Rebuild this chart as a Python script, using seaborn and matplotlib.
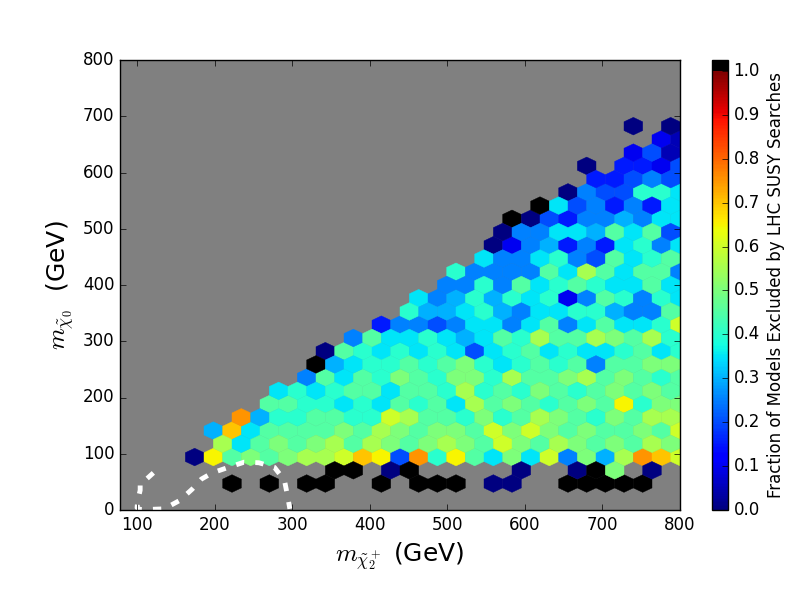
import numpy as np
import matplotlib
matplotlib.use("Agg")
import matplotlib.pyplot as plt
from matplotlib.colors import ListedColormap
import seaborn as sns

# hex lattice of the binning (gridsize 30 -> 17 rows)
x_extent = (78, 800)
y_extent = (0, 800)
grid_nx = 30
grid_ny = 17

# fraction of models excluded per hex, one string per half-row of the lattice,
# bottom row first. '.' = empty, 'a'..'u' = 0.00..1.00 in steps of 0.05
level_codes = "abcdefghijklmnopqrstu"
first_row = 2
hex_rows = [
    "......u.u.uu..u.uuu.aa..uuuuu..",
    "...........uu.au.....a..auk.a.",
    "....anjkjkllmonepinjhkhmfkglpom",
    ".....lhjkjkljlkjklkjmkjlkjkjlk",
    ".....gohjjjjkjlkjkkjmkmkjkjjkjm",
    "......pgiijjiimljjikijlkjikjll",
    "........jjiihihjijhljkjijkjnikk",
    "........hihijjhjjilijikjijkjkj",
    "..........fjhjikjikkiljjkljkjij",
    "..........ughiijijkihijijfjjkk",
    "...........ajihihihehijhihhijhi",
    "............fjhhihghjiljjlkjli",
    "..............dffefhhfhjfhjhhim",
    "...............igghigfhhiigffj",
    "................hfgigihicfjifih",
    ".................ffifjhijihhjh",
    "..................iffffjhljhjjf",
    "...................hffhifejhij",
    "....................acfgdfdhifh",
    "....................affhhgjhje",
    ".....................uaedffgfhh",
    "......................uhefdfdh",
    "........................afeeiih",
    ".........................ddefe",
    ".........................a.ddce",
    "...........................ceb",
    ".............................cb",
    "...........................a.a",
]

# white dashed contour in the lower left
contour_x = [121, 113, 104, 104, 101, 100, 104, 115, 135, 155, 171, 183, 197, 216, 238, 257, 277, 290, 294, 297]
contour_y = [66, 56, 49, 35, 18, 4, 1, 1, 2, 17, 37, 55, 66, 75, 85, 84, 76, 53, 25, 2]

# cell centres on the hexbin lattice
sx = (x_extent[1] - x_extent[0]) / grid_nx
sy = (y_extent[1] - y_extent[0]) / grid_ny
xs, ys, fracs = [], [], []
for n, row in enumerate(hex_rows):
    r = first_row + n
    for k, ch in enumerate(row):
        if ch == ".":
            continue
        xs.append(x_extent[0] + (k + 0.5 * (r % 2)) * sx)
        ys.append(y_extent[0] + r * sy / 2)
        fracs.append(level_codes.index(ch) * 0.05)

# jet with a black band on top for fully excluded cells
jet = matplotlib.colormaps["jet"]
colors = np.vstack([jet(np.linspace(0, 1, 400)), np.tile([0, 0, 0, 1], (10, 1))])
cmap = ListedColormap(colors)

plt.style.use("classic")
plt.rcParams["lines.scale_dashes"] = False

fig = plt.figure(figsize=(8, 6), dpi=100, facecolor="white")
ax = fig.add_axes([0.15, 0.15, 0.70, 0.75])
cax = fig.add_axes([0.89, 0.15, 0.02, 0.75])
ax.set_facecolor("#808080")

hb = ax.hexbin(xs, ys, C=fracs, gridsize=(grid_nx, grid_ny),
               extent=(*x_extent, *y_extent), reduce_C_function=np.mean,
               cmap=cmap, vmin=0, vmax=1.025, edgecolors="face", linewidths=0.3)

sns.lineplot(x=contour_x, y=contour_y, sort=False, estimator=None, ax=ax,
             color="white", linewidth=3.5, linestyle=(0, (6, 8)))

ax.set_xlim(*x_extent)
ax.set_ylim(*y_extent)
ax.set_xticks(range(100, 801, 100))
ax.set_yticks(range(0, 801, 100))
ax.set_xlabel(r"$m_{\tilde{\chi}_2^+}$ (GeV)", fontsize=18)
ax.set_ylabel(r"$m_{\tilde{\chi}_0}$  (GeV)", fontsize=18)

cb = fig.colorbar(hb, cax=cax, ticks=np.arange(0, 1.01, 0.1), format="%.1f")
cb.set_label("Fraction of Models Excluded by LHC SUSY Searches", fontsize=12)

fig.savefig("out.png", dpi=100, facecolor="white")
